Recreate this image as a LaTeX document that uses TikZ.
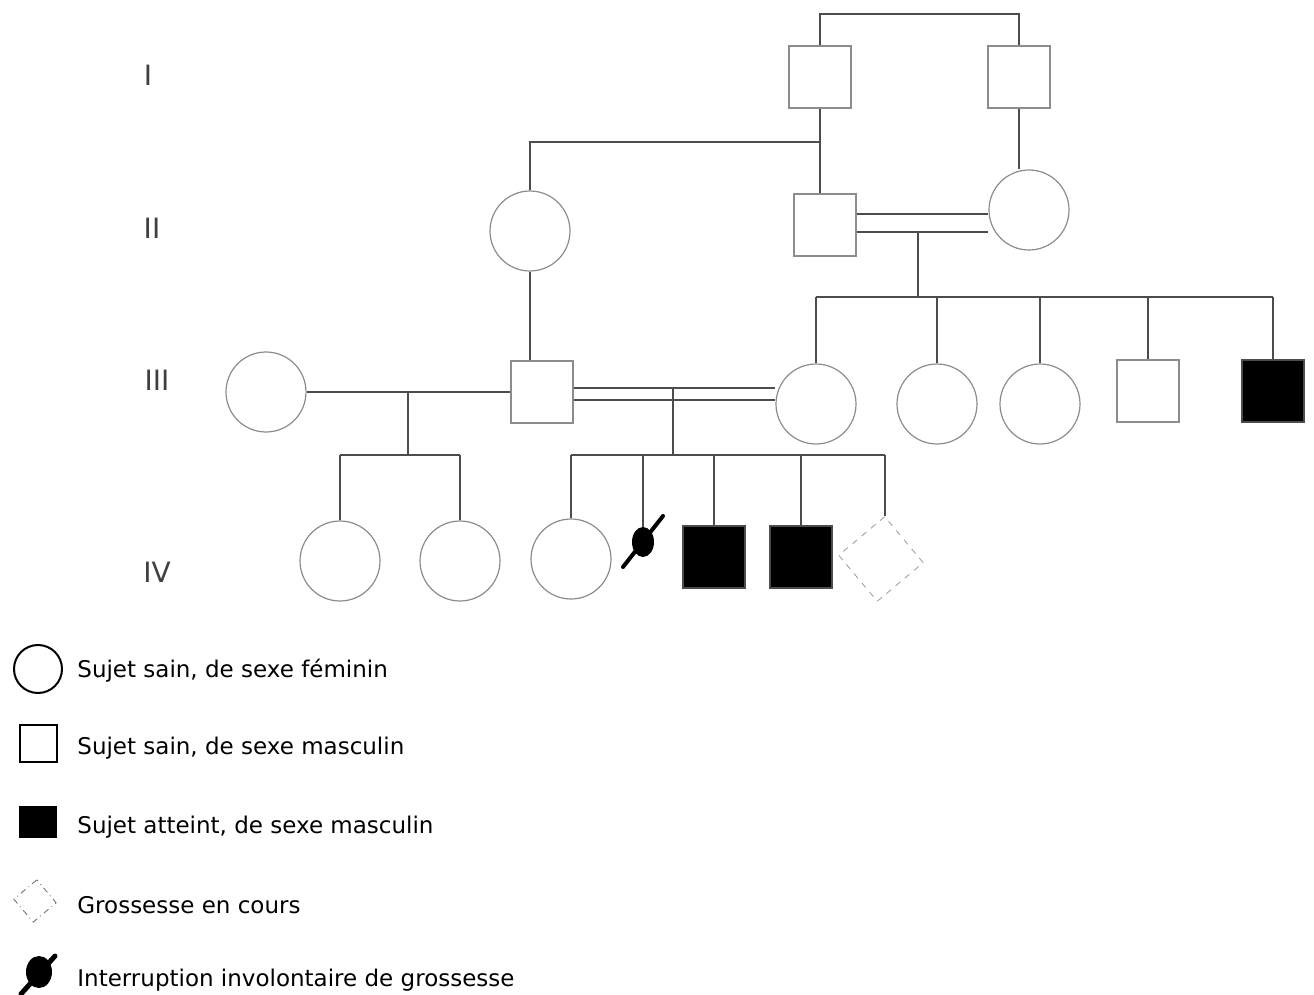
\documentclass[tikz,border=0pt]{standalone}
\usepackage{fontspec}
\setmainfont{DejaVu Sans}
\usetikzlibrary{positioning, shapes.geometric}

\begin{document}
\begin{tikzpicture}[x=0.5pt, y=-0.5pt,
		female/.style={circle, draw=gray!90, line width=0.6pt, fill=white, minimum size=40pt, inner sep=0pt},
		male/.style={rectangle, draw=gray!90, line width=0.6pt, fill=white, minimum width=31pt, minimum height=31pt, inner sep=0pt},
		affected/.style={male, fill=black, draw=black!70},
		pregnancy/.style={rectangle, draw=gray!80, dashed, minimum size=30pt, inner sep=0pt, rotate=40},
		lost/.style={ellipse, fill=black, minimum width=11pt, minimum height=15pt, inner sep=0pt},
		strike/.style={line width=2pt, line cap=round},
		link/.style={draw=black!70, line width=1pt},
		gen/.style={font=\fontsize{14}{17}\selectfont, text=black!75},
		legtext/.style={anchor=west, inner sep=0pt, font=\fontsize{11.5}{14}\selectfont}
	]
	\useasboundingbox (0,0) rectangle (1314,995);

	% generations
	\node[gen] (g1) at (148,75) {I};
	\node[gen] (g2) at (152,228) {II};
	\node[gen] (g3) at (157,380) {III};
	\node[gen] (g4) at (157,572) {IV};

	% generation I
	\node[male] (i1) at (820,77) {};
	\node[male] (i2) at (1019,77) {};
	% generation II
	\node[female] (ii1) at (530,231) {};
	\node[male] (ii2) at (825,225) {};
	\node[female] (ii3) at (1029,210) {};
	% generation III
	\node[female] (iii1) at (266,392) {};
	\node[male] (iii2) at (542,392) {};
	\node[female] (iii3) at (816,404) {};
	\node[female] (iii4) at (937,404) {};
	\node[female] (iii5) at (1040,404) {};
	\node[male] (iii6) at (1148,391) {};
	\node[affected] (iii7) at (1273,391) {};
	% generation IV
	\node[female] (iv1) at (340,561) {};
	\node[female] (iv2) at (460,561) {};
	\node[female] (iv3) at (571,559) {};
	\node[lost] (iv4) at (643,542) {};
	\node[affected] (iv5) at (714,557) {};
	\node[affected] (iv6) at (801,557) {};
	\node[pregnancy] (iv7) at (881,559) {};
	\draw[strike] (iv4.center) +(-20,25) -- +(20,-26);

	% junctions
	\coordinate (k1) at (820,142);
	\coordinate (c2) at (918,232);
	\coordinate (c2b) at (918,214);
	\coordinate (s2) at (918,297);
	\coordinate (c3) at (408,392);
	\coordinate (s3) at (408,455);
	\coordinate (c4) at (673,388);
	\coordinate (c4b) at (673,400);
	\coordinate (s4) at (673,455);

	% lines
	\draw[link] (i1.north) -- ++(0,-31) -| (i2.north);
	\draw[link] (i1.south) -- (i1.south |- ii2.north);
	\draw[link] (k1) -| (ii1.north);
	\draw[link] (i2.south) -- (i2.south |- ii3.north);
	\draw[link] (ii2.east |- c2b) -- (ii3.west |- c2b);
	\draw[link] (ii2.east |- c2) -- (ii3.west |- c2);
	\draw[link] (c2) -- (s2);
	\draw[link] (iii3.north |- s2) -- (iii7.north |- s2);
	\foreach \n in {iii3, iii4, iii5, iii6, iii7}
		\draw[link] (\n.north |- s2) -- (\n.north);

	\draw[link] (ii1.south) -- (ii1.south |- iii2.north);
	\draw[link] (iii1.east) -- (iii2.west);
	\draw[link] (c3) -- (s3);
	\draw[link] (iv1.north |- s3) -- (iv2.north |- s3);
	\foreach \n in {iv1, iv2}
		\draw[link] (\n.north |- s3) -- (\n.north);

	\draw[link] (iii2.east |- c4) -- (iii3.west |- c4);
	\draw[link] (iii2.east |- c4b) -- (iii3.west |- c4b);
	\draw[link] (c4) -- (s4);
	\draw[link] (iv3.north |- s4) -- (iv7.north east |- s4);
	\foreach \n in {iv3, iv4, iv5, iv6}
		\draw[link] (\n.north |- s4) -- (\n.north);
	\draw[link] (iv7.north east |- s4) -- (iv7.north east);

	% legend
	\node[circle, draw, line width=1pt, minimum size=24pt, inner sep=0pt] (l1) at (38,669) {};
	\node[rectangle, draw, line width=1pt, minimum size=18.5pt, inner sep=0pt] (l2) at (38,743) {};
	\node[rectangle, fill=black, minimum width=19pt, minimum height=16pt, inner sep=0pt] (l3) at (38,822) {};
	\node[rectangle, draw=black!60, dash dot, minimum size=15pt, inner sep=0pt, rotate=40] (l4) at (35,901) {};
	\node[lost, minimum width=13pt, minimum height=16pt] (l5) at (39,972) {};
	\draw[strike, line width=2.5pt] (l5.center) +(-18,22) -- +(16,-16);

	\node[legtext] (t1) at (77,671) {Sujet sain, de sexe féminin};
	\node[legtext] (t2) at (77,748) {Sujet sain, de sexe masculin};
	\node[legtext] (t3) at (77,827) {Sujet atteint, de sexe masculin};
	\node[legtext] (t4) at (77,905) {Grossesse en cours};
	\node[legtext] (t5) at (77,980) {Interruption involontaire de grossesse};
\end{tikzpicture}
\end{document}
